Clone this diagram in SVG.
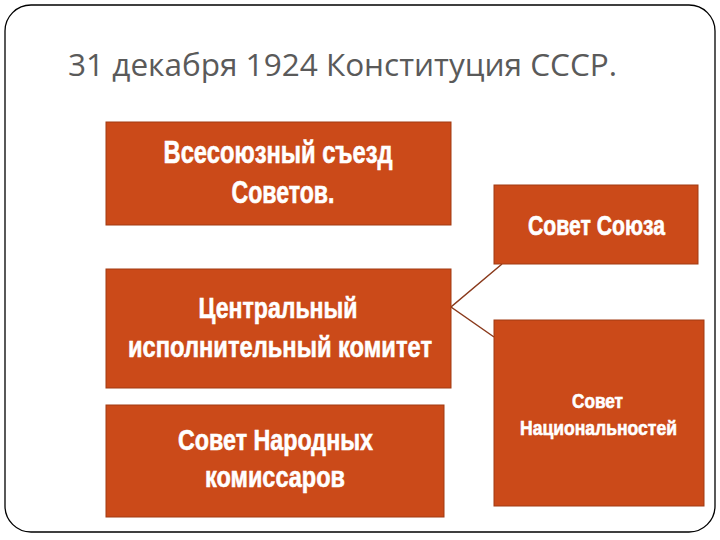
<svg xmlns="http://www.w3.org/2000/svg" width="720" height="540" viewBox="0 0 720 540">
<style>
.box{fill:#CB4A19;stroke:#A13B13;stroke-width:1}
.t{font-family:"Liberation Sans",Arial,sans-serif;font-weight:bold;fill:#FFFFFF;stroke:#FFFFFF;stroke-width:0.6;text-anchor:middle}
.title{font-family:"Open Sans","Liberation Sans",sans-serif;fill:#5A5A5A;font-size:31px}
.conn{stroke:#8A3A1C;stroke-width:1.5;fill:none}
</style>
<rect x="0" y="0" width="720" height="540" fill="#FFFFFF"/>
<rect x="5" y="5" width="710" height="527" rx="26" ry="26" fill="#FFFFFF" stroke="#000000" stroke-width="1.3"/>
<text class="title" x="68" y="76" textLength="549" lengthAdjust="spacingAndGlyphs">31 декабря 1924 Конституция СССР.</text>
<g id="connectors">
<polyline class="conn" points="502,264 451,307 494,337"/>
</g>
<g id="node-congress">
<rect class="box" x="106" y="122" width="345" height="103"/>
<text class="t" font-size="32" x="278" y="163" textLength="229" lengthAdjust="spacingAndGlyphs">Всесоюзный съезд</text>
<text class="t" font-size="31" x="283" y="203" textLength="103" lengthAdjust="spacingAndGlyphs">Советов.</text>
</g>
<g id="node-cik">
<rect class="box" x="106" y="269" width="345" height="119"/>
<text class="t" font-size="30" x="278" y="318" textLength="159" lengthAdjust="spacingAndGlyphs">Центральный</text>
<text class="t" font-size="30" x="280" y="357" textLength="304" lengthAdjust="spacingAndGlyphs">исполнительный комитет</text>
</g>
<g id="node-snk">
<rect class="box" x="106" y="405" width="338" height="112"/>
<text class="t" font-size="29" x="275.5" y="450" textLength="195" lengthAdjust="spacingAndGlyphs">Совет Народных</text>
<text class="t" font-size="29" x="275" y="487" textLength="140" lengthAdjust="spacingAndGlyphs">комиссаров</text>
</g>
<g id="node-union">
<rect class="box" x="494" y="185" width="204" height="79"/>
<text class="t" font-size="28" x="596.5" y="235" textLength="137" lengthAdjust="spacingAndGlyphs">Совет Союза</text>
</g>
<g id="node-nationalities">
<rect class="box" x="494" y="320" width="210" height="186"/>
<text class="t" font-size="21" x="597.5" y="408" textLength="51" lengthAdjust="spacingAndGlyphs">Совет</text>
<text class="t" font-size="21" x="598.5" y="435" textLength="157" lengthAdjust="spacingAndGlyphs">Национальностей</text>
</g>
</svg>
